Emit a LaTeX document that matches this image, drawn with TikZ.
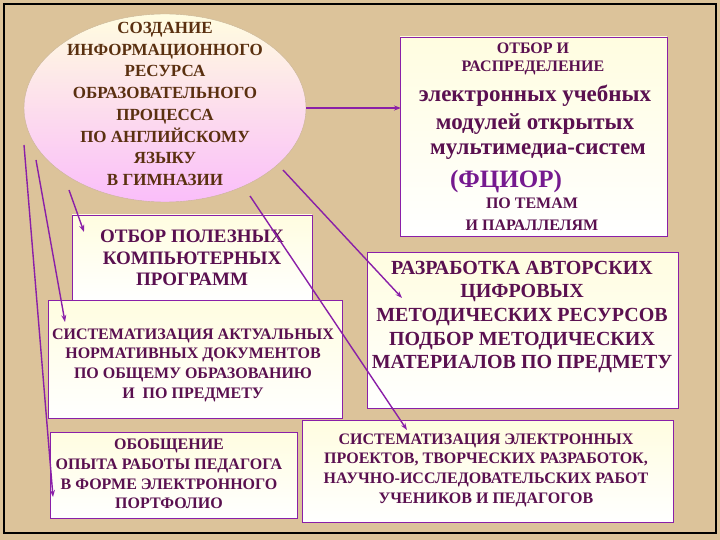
\documentclass[tikz,border=0pt]{standalone}
\usepackage{fontspec}
\setmainfont{LiberationSerif}[Extension=.ttf,UprightFont=*-Regular,BoldFont=*-Bold]
\usetikzlibrary{arrows.meta}
\definecolor{bg}{HTML}{DCC39A}
\definecolor{tx}{HTML}{5A1050}
\definecolor{br}{HTML}{5A3010}
\definecolor{ln}{HTML}{8A1FA8}
\definecolor{cr}{HTML}{FFFDE0}
\newcommand{\fsz}[2]{\bfseries\fontsize{#1}{#2}\selectfont}
\begin{document}
\begin{tikzpicture}[x=1pt,y=-1pt,
 bx/.style={draw=ln,line width=0.8pt,top color=cr,bottom color=white,inner sep=0pt},
 tt/.style={align=center,text=tx,inner sep=0pt},
 arr/.style={draw=ln,line width=1.4pt,-{Stealth[length=7pt,width=5pt]}}]
\fill[bg] (0,0) rectangle (720,540);
\draw[black,line width=1.2pt] (4,4) rectangle (716,533);
\useasboundingbox (0,0) rectangle (720,540);
% boxes
\path[bx] (400,37) rectangle (667,236);
\path[bx] (72,215) rectangle (312,300);
\path[bx] (48,300) rectangle (342,418);
\path[bx] (50,432) rectangle (297,518);
\path[bx] (367,252) rectangle (678,408);
\path[bx] (302,420) rectangle (673,522);
\shade[top color=cr,bottom color={rgb,255:red,250;green,190;blue,250},draw={rgb,255:red,200;green,180;blue,150}] (165,108) ellipse (141 and 94);
\node (ell) at (165,108) [minimum width=282pt,minimum height=188pt,inner sep=0pt] {};
\node[tt,text=br,font=\fsz{17}{21.7}] (et) at (165,104)
 {СОЗДАНИЕ\\ИНФОРМАЦИОННОГО\\РЕСУРСА\\ОБРАЗОВАТЕЛЬНОГО\\ПРОЦЕССА\\ПО АНГЛИЙСКОМУ\\ЯЗЫКУ\\В ГИМНАЗИИ};
\node[tt,font=\fsz{16}{20}] (f1) at (533,48) {ОТБОР И};
\node[tt,font=\fsz{16}{20}] (f2) at (533,68) {РАСПРЕДЕЛЕНИЕ};
\node[tt,font=\fsz{23}{28}] (f3) at (535,96) {электронных учебных};
\node[tt,font=\fsz{23}{28}] (f4) at (535,124) {модулей открытых};
\node[tt,font=\fsz{23}{28}] (f5) at (538,152) {мультимедиа-систем};
\node[tt,font=\fsz{25}{28},text=ln!85!black] (f6) at (506,181) {(ФЦИОР)};
\node[tt,font=\fsz{16}{20}] (f7) at (532,203) {ПО ТЕМАМ};
\node[tt,font=\fsz{16}{20}] (f8) at (532,225) {И ПАРАЛЛЕЛЯМ};
\node[tt,font=\fsz{19}{21.5}] (po) at (192,258) {ОТБОР ПОЛЕЗНЫХ\\КОМПЬЮТЕРНЫХ\\ПРОГРАММ};
\node[tt,font=\fsz{16}{19.7}] (sa) at (193,365) {СИСТЕМАТИЗАЦИЯ АКТУАЛЬНЫХ\\НОРМАТИВНЫХ ДОКУМЕНТОВ\\ПО ОБЩЕМУ ОБРАЗОВАНИЮ\\И \ ПО ПРЕДМЕТУ};
\node[tt,font=\fsz{16}{19.7}] (ob) at (169,474) {ОБОБЩЕНИЕ\\ОПЫТА РАБОТЫ ПЕДАГОГА\\В ФОРМЕ ЭЛЕКТРОННОГО\\ПОРТФОЛИО};
\node[tt,font=\fsz{20}{23.7}] (ra) at (522,317) {РАЗРАБОТКА АВТОРСКИХ\\ЦИФРОВЫХ\\МЕТОДИЧЕСКИХ РЕСУРСОВ\\ПОДБОР МЕТОДИЧЕСКИХ\\МАТЕРИАЛОВ ПО ПРЕДМЕТУ};
\node[tt,font=\fsz{16}{19.7}] (se) at (486,470) {СИСТЕМАТИЗАЦИЯ ЭЛЕКТРОННЫХ\\ПРОЕКТОВ, ТВОРЧЕСКИХ РАЗРАБОТОК,\\НАУЧНО-ИССЛЕДОВАТЕЛЬСКИХ РАБОТ\\УЧЕНИКОВ И ПЕДАГОГОВ};
% connectors
\coordinate (a1) at (306,108); \coordinate (b1) at (401,108);
\coordinate (a2) at (283,170); \coordinate (b2) at (402,298);
\coordinate (a3) at (250,196); \coordinate (b3) at (407,430);
\coordinate (a4) at (69,190);  \coordinate (b4) at (84,232);
\coordinate (a5) at (36,160);  \coordinate (b5) at (65,322);
\coordinate (a6) at (24,145);  \coordinate (b6) at (53,497);
\foreach \i in {1,...,6} \draw[arr] (a\i) -- (b\i);
\end{tikzpicture}
\end{document}
